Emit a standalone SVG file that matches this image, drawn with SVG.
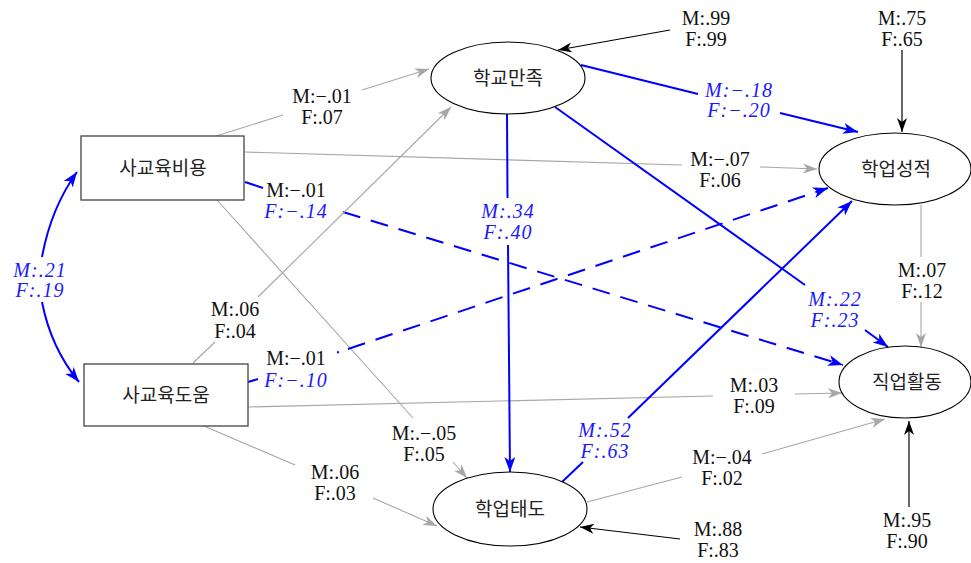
<svg xmlns="http://www.w3.org/2000/svg" width="971" height="563" viewBox="0 0 971 563">
<style>
.node{fill:#fff;stroke:#000;stroke-width:1.1}
.box{fill:#fff;stroke:#444;stroke-width:1.3}
.kt{font-family:"Noto Sans CJK KR","Noto Sans",sans-serif;font-size:19px;text-anchor:middle;fill:#222}
.g{fill:none;stroke:#a6a6a6;stroke-width:1.1}
.k{fill:none;stroke:#000;stroke-width:1.2}
.b{fill:none;stroke:#0000ff;stroke-width:2}
.d{stroke-dasharray:18 11}
.l{font-family:"Liberation Serif","DejaVu Serif",serif;font-size:20px;text-anchor:middle;fill:#111}
.bl{font-family:"Liberation Serif","DejaVu Serif",serif;font-size:20px;text-anchor:middle;fill:#1a1aff;font-style:italic;letter-spacing:1px}
</style>
<defs>
<marker id="ag" markerUnits="userSpaceOnUse" markerWidth="16" markerHeight="12" refX="14" refY="5" orient="auto"><path d="M0,0 L14,5 L0,10 L4,5 z" fill="#a6a6a6"/></marker>
<marker id="ak" markerUnits="userSpaceOnUse" markerWidth="16" markerHeight="12" refX="14" refY="5" orient="auto"><path d="M0,0 L14,5 L0,10 L4,5 z" fill="#000"/></marker>
<marker id="ab" markerUnits="userSpaceOnUse" markerWidth="18" markerHeight="12" refX="15" refY="5.5" orient="auto"><path d="M0,0 L15,5.5 L0,11 L4,5.5 z" fill="#0000ff"/></marker>
</defs>

<g id="connectors">
  <path class="g" d="M216,136 L283,115"/>
  <path class="g" d="M362,90 L429,69" marker-end="url(#ag)"/>
  <path class="g" d="M244,152 L682,165"/>
  <path class="g" d="M760,167 L817,169" marker-end="url(#ag)"/>
  <path class="b" d="M245,182 L263,188"/>
  <path class="b d" d="M343,212 L843,365" marker-end="url(#ab)"/>
  <path class="g" d="M217,200 L413,418"/>
  <path class="g" d="M453,462 L467,478" marker-end="url(#ag)"/>
  <path class="g" d="M193,363 L215,342"/>
  <path class="g" d="M258,297 L451,107" marker-end="url(#ag)"/>
  <path class="b" d="M248,382 L258,379"/>
  <path class="b" d="M337,352.5 L339,352"/>
  <path class="b d" d="M348,349 L828,188" marker-end="url(#ab)"/>
  <path class="g" d="M248,407 L713,396"/>
  <path class="g" d="M795,394 L842,393" marker-end="url(#ag)"/>
  <path class="g" d="M204,426 L295,465"/>
  <path class="g" d="M373,498 L437,526" marker-end="url(#ag)"/>
  <path class="b" d="M581,65 L698,94"/>
  <path class="b" d="M780,113 L858,132" marker-end="url(#ab)"/>
  <path class="b" d="M507,114 L507.5,198"/>
  <path class="b" d="M508,245 L510,472" marker-end="url(#ab)"/>
  <path class="b" d="M555,107 L805,285"/>
  <path class="b" d="M865,330 L888,347" marker-end="url(#ab)"/>
  <path class="b" d="M562,482 L583,462"/>
  <path class="b" d="M628,418 L852,201" marker-end="url(#ab)"/>
  <path class="g" d="M587,502 L682,477"/>
  <path class="g" d="M762,454 L885,419" marker-end="url(#ag)"/>
  <path class="g" d="M921,205 L921,257"/>
  <path class="g" d="M921,302 L921,347" marker-end="url(#ag)"/>
  <path class="b" d="M42,257 Q51,208 77,172" marker-end="url(#ab)"/>
  <path class="b" d="M42,302 Q51,348 79,382" marker-end="url(#ab)"/>
  <path class="k" d="M670,30 L558,50" marker-end="url(#ak)"/>
  <path class="k" d="M902,50 L902,132" marker-end="url(#ak)"/>
  <path class="k" d="M680,539 L580,527" marker-end="url(#ak)"/>
  <path class="k" d="M909,507 L909,421" marker-end="url(#ak)"/>
</g>

<g id="labels">
  <text class="l" x="322" y="103">M:−.01</text><text class="l" x="322" y="124">F:.07</text>
  <text class="l" x="720" y="166">M:−.07</text><text class="l" x="720" y="187">F:.06</text>
  <text class="l" x="296" y="197">M:−.01</text><text class="bl" x="296" y="218">F:−.14</text>
  <text class="l" x="424" y="440">M:.−.05</text><text class="l" x="424" y="461">F:.05</text>
  <text class="l" x="235" y="316">M:.06</text><text class="l" x="235" y="338">F:.04</text>
  <text class="l" x="296" y="365">M:−.01</text><text class="bl" x="296" y="387">F:−.10</text>
  <text class="l" x="754" y="392">M:.03</text><text class="l" x="754" y="413">F:.09</text>
  <text class="l" x="335" y="479">M:.06</text><text class="l" x="335" y="500">F:.03</text>
  <text class="bl" x="739" y="97">M:−.18</text><text class="bl" x="739" y="117">F:−.20</text>
  <text class="bl" x="508" y="218">M:.34</text><text class="bl" x="508" y="239">F:.40</text>
  <text class="bl" x="835" y="306">M:.22</text><text class="bl" x="835" y="327">F:.23</text>
  <text class="bl" x="605" y="437">M:.52</text><text class="bl" x="605" y="458">F:.63</text>
  <text class="l" x="722" y="464">M:−.04</text><text class="l" x="722" y="485">F:.02</text>
  <text class="l" x="922" y="277">M:.07</text><text class="l" x="922" y="298">F:.12</text>
  <text class="bl" x="40" y="277">M:.21</text><text class="bl" x="40" y="297">F:.19</text>
  <text class="l" x="706" y="25">M:.99</text><text class="l" x="706" y="46">F:.99</text>
  <text class="l" x="902" y="25">M:.75</text><text class="l" x="902" y="46">F:.65</text>
  <text class="l" x="718" y="536">M:.88</text><text class="l" x="718" y="557">F:.83</text>
  <text class="l" x="907" y="527">M:.95</text><text class="l" x="907" y="548">F:.90</text>
</g>

<g id="n_cost"><rect class="box" x="81" y="136" width="163" height="64"/><text class="kt" x="163" y="175">사교육비용</text></g>
<g id="n_help"><rect class="box" x="84" y="364" width="164" height="62"/><text class="kt" x="166" y="402">사교육도움</text></g>
<g id="n_satis"><ellipse class="node" cx="508" cy="78" rx="77" ry="36"/><text class="kt" x="508" y="85">학교만족</text></g>
<g id="n_grade"><ellipse class="node" cx="895" cy="169" rx="76" ry="36"/><text class="kt" x="896" y="176">학업성적</text></g>
<g id="n_career"><ellipse class="node" cx="905" cy="382" rx="66" ry="36"/><text class="kt" x="907" y="389">직업활동</text></g>
<g id="n_attit"><ellipse class="node" cx="510" cy="509" rx="77" ry="37"/><text class="kt" x="510" y="516">학업태도</text></g>
</svg>
